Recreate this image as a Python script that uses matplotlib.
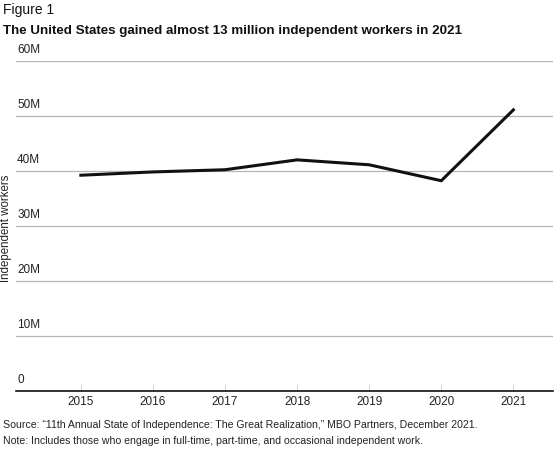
import matplotlib
matplotlib.use("Agg")
import matplotlib.pyplot as plt
import matplotlib.transforms as mtransforms

years = [2015, 2016, 2017, 2018, 2019, 2020, 2021]
workers = [39.2, 39.8, 40.2, 42.0, 41.1, 38.2, 51.1]  # millions
yticks = [0, 10, 20, 30, 40, 50, 60]
ytick_labels = ["0", "10M", "20M", "30M", "40M", "50M", "60M"]

plt.rcParams['font.family'] = ['Liberation Sans', 'DejaVu Sans']

fig = plt.figure(figsize=(5.6, 4.51), dpi=100)
ax = fig.add_axes([16 / 560, 1 - 390.5 / 451, 537 / 560, 329.5 / 451])

ax.plot(years, workers, color='#111111', lw=2.2, solid_joinstyle='miter', zorder=3)

ax.set_xlim(2014.1, 2021.55)
ax.set_ylim(0, 60)
ax.set_xticks(years)
ax.set_xticklabels([str(y) for y in years], fontsize=8.5, color='#222222')
ax.tick_params(axis='x', direction='in', length=5, width=0.6, color='#c8c8c8', pad=4)
ax.set_yticks(yticks)
ax.set_yticklabels([])
ax.tick_params(axis='y', length=0)
ax.grid(axis='y', color='#b5b5b5', lw=0.9)
for s in ['top', 'right', 'left']:
    ax.spines[s].set_visible(False)
ax.spines['bottom'].set_color('#111111')
ax.spines['bottom'].set_linewidth(1.2)

trans = mtransforms.blended_transform_factory(ax.transAxes, ax.transData)
for v, lab in zip(yticks, ytick_labels):
    ax.text(0.002, v + 0.9, lab, transform=trans, ha='left', va='bottom',
            fontsize=8.5, color='#222222')

fig.text(6 / 560, 1 - 228 / 451, 'Independent workers', rotation=90,
         ha='center', va='center', fontsize=8.3, color='#222222')

fig.text(3 / 560, 1 - 10 / 451, 'Figure 1', ha='left', va='center',
         fontsize=10, color='#111111')
fig.text(3 / 560, 1 - 31 / 451,
         'The United States gained almost 13 million independent workers in 2021',
         ha='left', va='center', fontsize=9.6, fontweight='bold', color='#111111')
fig.text(3 / 560, 1 - 425 / 451,
         'Source: \u201c11th Annual State of Independence: The Great Realization,\u201d MBO Partners, December 2021.',
         ha='left', va='center', fontsize=7.6, color='#222222')
fig.text(3 / 560, 1 - 441 / 451,
         'Note: Includes those who engage in full-time, part-time, and occasional independent work.',
         ha='left', va='center', fontsize=7.6, color='#222222')

fig.savefig('out.png', dpi=100)
